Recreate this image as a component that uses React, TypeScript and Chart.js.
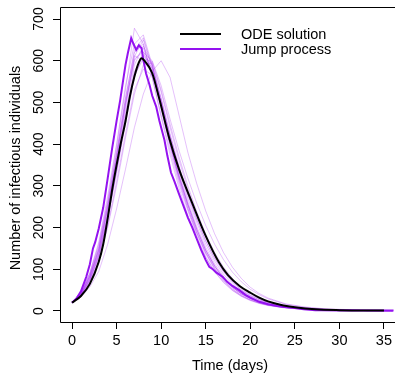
import React, { useEffect, useRef } from "react";
import { Chart, registerables } from "chart.js";

Chart.register(...registerables);

// ---------- data ----------
const seriesLabels = ["ODE solution", "Jump process"];
const xTicks = [0, 5, 10, 15, 20, 25, 30, 35];
const yTicks = [0, 100, 200, 300, 400, 500, 600, 700];

// ODE solution
const odeT = [0, 1, 2, 3, 3.5, 4, 4.5, 5, 5.5, 6, 6.5, 7, 7.5, 7.8, 8.2, 9, 9.8, 10.9, 12, 13.5, 15, 16.5, 17.5, 18.8, 20, 21, 22, 23.6, 25, 27.3, 30, 35];
const odeI = [20, 36, 65, 118, 160, 222, 290, 350, 405, 455, 515, 562, 596, 606, 598, 570, 508, 415, 340, 258, 180, 116, 86, 60, 44, 32, 23, 14, 9, 4, 2, 1];

// highlighted jump-process trajectory
const jumpT = [0, 0.5, 1, 1.6, 2, 2.35, 2.6, 3, 3.5, 4, 4.5, 5, 5.4, 5.7, 6, 6.26, 6.64, 6.9, 7.2, 7.5, 7.8, 8.0, 8.3, 8.7, 9.0, 9.44, 9.8, 10.37, 10.7, 11.1, 11.5, 12, 12.4, 13, 13.5, 13.9, 14.5, 15, 15.4, 15.8, 16.2, 16.9, 17.4, 18, 18.76, 19.5, 20, 21, 22, 23, 23.6, 25, 26, 27.3, 28, 30, 33, 36.1];
const jumpI = [20, 30, 47, 82, 112, 150, 165, 198, 248, 318, 390, 456, 505, 548, 590, 618, 654, 640, 626, 637, 630, 602, 570, 542, 516, 490, 456, 410, 372, 332, 310, 281, 258, 224, 200, 178, 146, 122, 106, 100, 92, 82, 70, 60, 50, 38, 32, 22, 16, 12, 10, 7, 4, 2, 2, 1, 1, 1];

// faint jump-process trajectories
const faintT = [0, 1, 2, 3, 4, 5, 6, 7, 8, 9, 10, 11, 12, 13, 14, 15, 16, 17, 18, 19, 20, 21, 22, 24, 26, 28, 30, 33, 36];
const faint1 = [20, 45, 90, 160, 260, 380, 510, 620, 640, 560, 470, 385, 305, 240, 180, 130, 95, 70, 50, 36, 26, 19, 14, 8, 5, 3, 2, 1, 1];
const faint2 = [20, 40, 80, 140, 240, 360, 490, 610, 650, 580, 490, 400, 320, 255, 195, 145, 108, 80, 58, 42, 31, 23, 17, 10, 6, 4, 2, 1, 1];
const faint3 = [20, 38, 72, 128, 220, 330, 450, 560, 615, 590, 510, 420, 340, 270, 212, 160, 120, 88, 64, 47, 34, 25, 18, 11, 7, 4, 3, 2, 1];
const faint4 = [20, 33, 58, 95, 160, 245, 340, 440, 520, 575, 600, 560, 470, 380, 305, 240, 185, 140, 105, 78, 57, 42, 31, 17, 10, 6, 4, 2, 1];
const faint5 = [20, 44, 88, 155, 265, 395, 530, 678, 640, 560, 465, 375, 295, 228, 172, 128, 94, 68, 49, 35, 25, 18, 13, 7, 4, 2, 1, 1, 0];
const faint6 = [20, 37, 70, 120, 205, 310, 425, 530, 580, 565, 500, 420, 345, 278, 220, 168, 127, 95, 70, 51, 37, 27, 20, 11, 6, 4, 2, 1, 1];
const faint7 = [20, 41, 82, 145, 245, 365, 495, 600, 630, 575, 485, 395, 312, 245, 187, 140, 104, 77, 56, 41, 30, 22, 16, 9, 5, 3, 2, 1, 0];
const faint8 = [20, 39, 75, 132, 225, 340, 460, 570, 620, 600, 540, 460, 385, 318, 258, 205, 160, 123, 93, 70, 52, 39, 29, 16, 9, 5, 3, 2, 1];
const faint9 = [20, 43, 85, 150, 255, 380, 510, 625, 655, 585, 495, 405, 322, 252, 190, 140, 102, 74, 53, 38, 27, 20, 14, 8, 5, 3, 2, 1, 1];
const faint10 = [20, 40, 78, 138, 235, 352, 478, 590, 635, 590, 505, 415, 332, 262, 202, 152, 113, 83, 60, 44, 32, 23, 17, 10, 6, 3, 2, 1, 1];
const faint11 = [20, 42, 84, 148, 250, 372, 500, 612, 600, 570, 500, 410, 326, 256, 196, 146, 108, 79, 57, 41, 30, 22, 16, 9, 5, 3, 2, 1, 0];
const faint12 = [20, 36, 68, 118, 200, 300, 415, 520, 590, 595, 525, 440, 362, 292, 232, 178, 134, 100, 74, 54, 39, 29, 21, 12, 7, 4, 2, 1, 1];
const faint13 = [20, 46, 92, 165, 275, 400, 540, 640, 662, 590, 495, 400, 316, 246, 186, 137, 100, 73, 52, 37, 27, 19, 14, 8, 5, 3, 2, 1, 0];
const faint14 = [20, 39, 76, 135, 228, 345, 470, 575, 612, 582, 508, 425, 348, 280, 220, 168, 126, 94, 69, 50, 36, 27, 20, 11, 6, 4, 2, 1, 1];
const faint15 = [20, 42, 83, 146, 248, 368, 498, 604, 622, 570, 490, 404, 324, 256, 196, 146, 108, 79, 57, 41, 30, 22, 16, 9, 5, 3, 2, 1, 0];
const faint16 = [20, 38, 74, 130, 222, 335, 458, 565, 605, 598, 530, 448, 370, 300, 238, 184, 140, 105, 78, 57, 42, 31, 22, 12, 7, 4, 2, 1, 1];
const faintSeries = [faint1, faint2, faint3, faint4, faint5, faint6, faint7, faint8, faint9, faint10, faint11, faint12, faint13, faint14, faint15, faint16];

const FONT = "'Liberation Sans', Arial, Helvetica, sans-serif";
const PURPLE = "#9412F0";

const pts = (t: number[], v: number[]) => t.map((x, i) => ({ x, y: v[i] }));

const decorPlugin = {
  id: "decor",
  afterDraw(chart: any) {
    const { ctx, chartArea, scales } = chart;
    const { left, top, bottom, right } = chartArea;
    ctx.save();
    // frame
    ctx.strokeStyle = "#000";
    ctx.lineWidth = 1;
    ctx.beginPath();
    ctx.moveTo(right + 5, Math.round(top) + 0.5);
    ctx.lineTo(Math.round(left) + 0.5, Math.round(top) + 0.5);
    ctx.lineTo(Math.round(left) + 0.5, Math.round(bottom) + 0.5);
    ctx.lineTo(right + 5, Math.round(bottom) + 0.5);
    ctx.stroke();

    ctx.fillStyle = "#000";
    // y tick labels (rotated, R style)
    ctx.font = `14px ${FONT}`;
    ctx.textAlign = "center";
    ctx.textBaseline = "middle";
    for (const v of yTicks) {
      const y = scales.y.getPixelForValue(v);
      ctx.save();
      ctx.translate(39, y);
      ctx.rotate(-Math.PI / 2);
      ctx.fillText(String(v), 0, 0);
      ctx.restore();
    }
    // axis titles
    ctx.font = `14.5px ${FONT}`;
    ctx.save();
    ctx.translate(16, 168);
    ctx.rotate(-Math.PI / 2);
    ctx.fillText("Number of infectious individuals", 0, 0);
    ctx.restore();
    ctx.fillText("Time (days)", 230, 366);

    // legend
    const items = [
      { label: seriesLabels[0], color: "#000", y: 34 },
      { label: seriesLabels[1], color: PURPLE, y: 49 },
    ];
    ctx.textAlign = "left";
    for (const it of items) {
      ctx.strokeStyle = it.color;
      ctx.lineWidth = 2;
      ctx.beginPath();
      ctx.moveTo(180, it.y);
      ctx.lineTo(221, it.y);
      ctx.stroke();
      ctx.fillStyle = "#000";
      ctx.fillText(it.label, 241, it.y + 1);
    }
    ctx.restore();
  },
};

export default function App() {
  const ref = useRef<HTMLCanvasElement>(null);
  useEffect(() => {
    if (!ref.current) return;
    const datasets: any[] = [];
    faintSeries.forEach((s, i) => {
      datasets.push({
        label: "faint" + i,
        data: pts(faintT, s),
        borderColor: "rgba(160, 32, 240, 0.28)",
        borderWidth: 1,
        pointRadius: 0,
        tension: 0,
        order: 3,
      });
    });
    datasets.push({
      label: seriesLabels[1],
      data: pts(jumpT, jumpI),
      borderColor: PURPLE,
      borderWidth: 2,
      pointRadius: 0,
      tension: 0,
      order: 2,
    });
    datasets.push({
      label: seriesLabels[0],
      data: pts(odeT, odeI),
      borderColor: "#000",
      borderWidth: 2,
      pointRadius: 0,
      cubicInterpolationMode: "monotone",
      order: 1,
    });
    const chart = new Chart(ref.current, {
      type: "line",
      data: { datasets },
      options: {
        animation: false,
        responsive: false,
        layout: { padding: { top: 7, left: 0, right: 0, bottom: 0 } },
        plugins: { legend: { display: false }, tooltip: { enabled: false } },
        scales: {
          x: {
            type: "linear",
            min: -1.35,
            max: 36.1,
            afterFit: (s: any) => { s.height = 52; },
            afterBuildTicks: (s: any) => { s.ticks = xTicks.map((v) => ({ value: v })); },
            grid: { drawOnChartArea: false, drawTicks: true, tickLength: 7, color: "#000", tickColor: "#000" },
            border: { display: false },
            ticks: { color: "#000", font: { family: FONT, size: 14.5 }, padding: 3, maxRotation: 0, autoSkip: false },
          },
          y: {
            type: "linear",
            min: -26.4,
            max: 728.8,
            afterFit: (s: any) => { s.width = 60; },
            afterBuildTicks: (s: any) => { s.ticks = yTicks.map((v) => ({ value: v })); },
            grid: { drawOnChartArea: false, drawTicks: true, tickLength: 7, color: "#000", tickColor: "#000" },
            border: { display: false },
            ticks: { display: false },
          },
        },
      },
      plugins: [decorPlugin],
    } as any);
    return () => chart.destroy();
  }, []);
  return (
    <div style={{ position: "absolute", left: 0, top: 0, width: 395, height: 374, background: "#fff" }}>
      <canvas ref={ref} width={395} height={374} style={{ width: 395, height: 374, display: "block" }} />
    </div>
  );
}
